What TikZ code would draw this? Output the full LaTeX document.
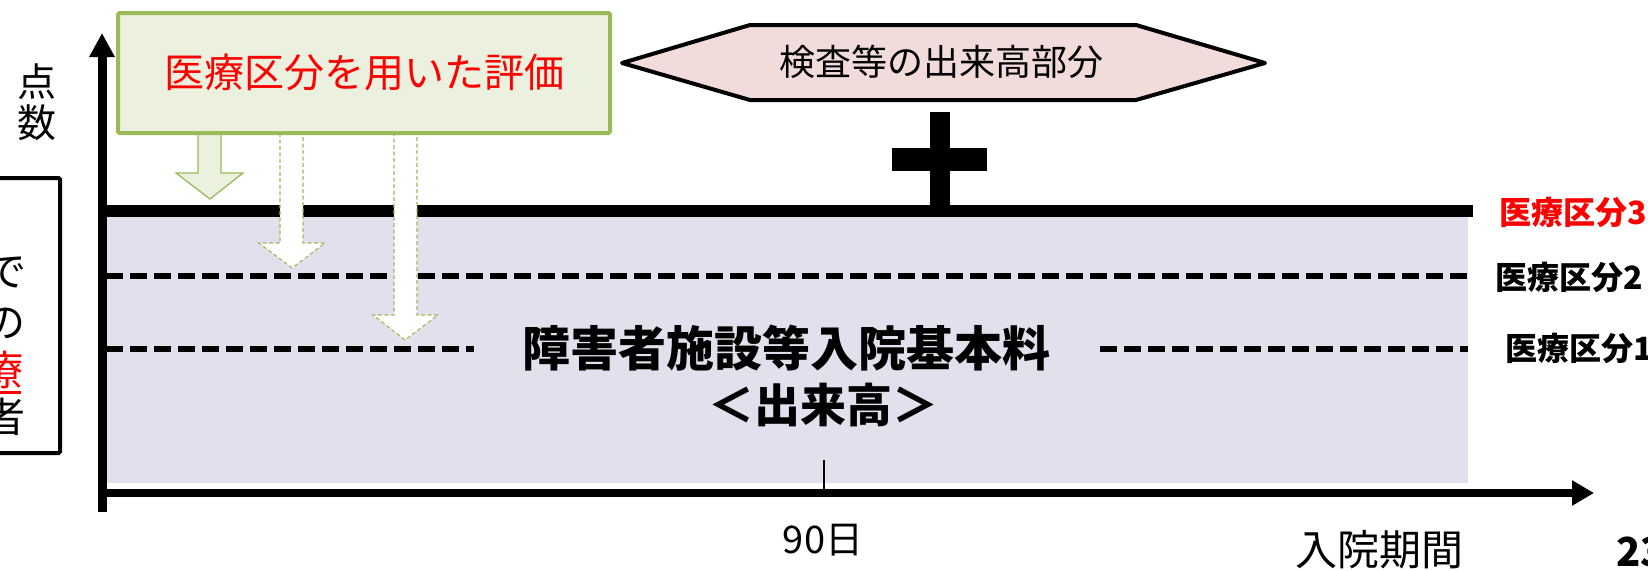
\documentclass[tikz,border=0pt]{standalone}
\usepackage{fontspec}
\usetikzlibrary{arrows.meta}
\newfontfamily\jp{Noto Sans CJK JP}
\newcommand{\myfs}[1]{\fontsize{#1}{#1}\selectfont}
\definecolor{gbox}{HTML}{EBF1DE}
\definecolor{gline}{HTML}{9BBB59}
\definecolor{purp}{HTML}{E4DFEC}
\definecolor{pinkf}{HTML}{F2DCDB}
\tikzset{
  lvl/.style={line width=6pt, dash pattern=on 17pt off 7pt},
  blockarrow/.style={draw=gline, line width=1.3pt, fill=gbox},
  dasharrow/.style={draw=gline, line width=1.1pt, dash pattern=on 4pt off 2.5pt, fill=white},
  rlabel/.style={anchor=west, font=\jp\bfseries\myfs{32}, inner sep=0pt},
  sidechar/.style={anchor=east, font=\jp\myfs{41}, inner sep=0pt},
}
\begin{document}
\begin{tikzpicture}[x=1pt,y=-1pt]
\useasboundingbox (0,0) rectangle (1648,570);
\clip (0,0) rectangle (1648,570);
\fill[white] (0,0) rectangle (1648,570);

% purple area
\fill[purp] (106,211) rectangle (1468,483);

% level lines
\coordinate (l2a) at (106,276); \coordinate (l2b) at (1468,276);
\coordinate (l1a) at (106,349); \coordinate (l1b) at (474,349);
\coordinate (l1c) at (1100,349); \coordinate (l1d) at (1468,349);
\draw[lvl] (l2a) -- (l2b);
\draw[lvl] (l1a) -- (l1b);
\draw[lvl] (l1c) -- (l1d);
\coordinate (l3a) at (98,211); \coordinate (l3b) at (1473,211);
\draw[line width=12pt] (l3a) -- (l3b);

% plus sign
\fill (930,112) rectangle (950,206);
\fill (892,148) rectangle (987,171);

% hexagon
\draw[line width=4pt, fill=pinkf, line join=round] (622,63) -- (750,25) -- (1136,25) -- (1265,63) -- (1136,100) -- (750,100) -- cycle;
\node[font=\jp\myfs{36}, inner sep=0pt] (hextxt) at (941,62) {検査等の出来高部分};

% block arrows
\draw[blockarrow] (198,134) -- (221,134) -- (221,173) -- (243,173) -- (210,199) -- (176,173) -- (198,173) -- cycle;
\draw[dasharrow] (280,134) -- (303,134) -- (303,243) -- (325,243) -- (292,268) -- (259,243) -- (280,243) -- cycle;
\draw[dasharrow] (394,134) -- (417,134) -- (417,315) -- (438,315) -- (405,340) -- (373,315) -- (394,315) -- cycle;

% green box
\node[draw=gline, line width=4pt, fill=gbox, minimum width=492pt, minimum height=120pt,
      rounded corners=1.5pt, inner sep=0pt] (evalbox) at (364,73) {};
\node[font=\jp\myfs{40}, text=red, inner sep=0pt] (evaltxt) at (364,72) {医療区分を用いた評価};

% axes
\coordinate (ybot) at (102,512); \coordinate (ytop) at (102,33);
\coordinate (xl) at (98,493); \coordinate (xr) at (1594,493);
\draw[line width=9pt, -{Triangle[width=24pt,length=24pt]}] (ybot) -- (ytop);
\draw[line width=8pt, -{Triangle[width=24pt,length=22pt]}] (xl) -- (xr);
\coordinate (tka) at (824,460); \coordinate (tkb) at (824,489);
\draw[line width=1.2pt] (tka) -- (tkb);

% axis labels
\node[font=\jp\myfs{39}, inner sep=0pt] (ten) at (37,82) {点};
\node[font=\jp\myfs{39}, inner sep=0pt] (suu) at (37,123) {数};
\node[font=\jp\myfs{38}, inner sep=0pt] (d90) at (823,540) {90日};
\node[font=\jp\myfs{42}, inner sep=0pt] (period) at (1379,550) {入院期間};
\node[anchor=west, font=\jp\bfseries\myfs{40}, inner sep=0pt] (pg) at (1616,552) {23};

% main label
\node[font=\jp\bfseries\myfs{48}, inner sep=0pt] (base) at (786,348) {障害者施設等入院基本料};
\node[font=\jp\bfseries\myfs{46}, inner sep=0pt] (dek) at (823,405) {＜出来高＞};

% right labels
\node[rlabel, text=red] (k3) at (1499,212) {医療区分3};
\node[rlabel] (k2) at (1495,277) {医療区分2};
\node[rlabel] (k1) at (1505,348) {医療区分1};

% left clipped box
\draw[line width=4pt, rounded corners=1.5pt] (-20,178) rectangle (60,453);
\node[sidechar] (c1) at (27,272) {で};
\node[sidechar] (c2) at (26,323) {の};
\node[sidechar, text=red] (c3) at (24,370) {療};
\draw[red, line width=3pt] (0,392) -- (21,392);
\node[sidechar] (c4) at (26,417) {者};
\end{tikzpicture}
\end{document}
